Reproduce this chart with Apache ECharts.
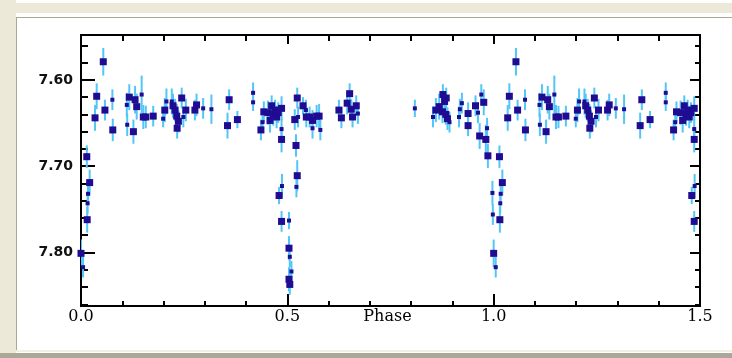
<!DOCTYPE html>
<html><head><meta charset="utf-8">
<script src="https://cdn.jsdelivr.net/npm/echarts@6/dist/echarts.min.js"></script>
<style>
html,body{margin:0;padding:0;width:732px;height:358px;overflow:hidden;background:#fff;}
.f{position:absolute;}
#chart{position:absolute;left:0;top:0;width:732px;height:358px;}
</style></head><body>
<div class="f" style="left:0;top:3px;width:732px;height:10px;background:#ECE9D8"></div>
<div class="f" style="left:0;top:0;width:16px;height:358px;background:#ECE9D8"></div>
<div class="f" style="left:16px;top:17px;width:716px;height:1px;background:#ACA899"></div>
<div class="f" style="left:16px;top:17px;width:1px;height:333px;background:#ACA899"></div>
<div class="f" style="left:16px;top:350px;width:716px;height:2px;background:#F1EFE2"></div>
<div class="f" style="left:0;top:353px;width:732px;height:5px;background:#ACA899"></div>
<div id="chart"></div>
<script>
// Folded light curve, phase 0..1 (phases below 0.5 are repeated at +1, as in the source)
const phase = [0.000,0.005,0.014,0.015,0.016,0.017,0.021,0.034,0.038,0.054,0.058,0.076,0.077,0.111,0.112,0.117,0.127,0.131,0.135,0.147,0.151,0.157,0.175,0.199,0.203,0.207,0.220,0.223,0.228,0.232,0.233,0.236,0.244,0.248,0.254,0.276,0.280,0.296,0.316,0.355,0.359,0.379,0.417,0.417,0.436,0.440,0.443,0.453,0.458,0.462,0.466,0.470,0.474,0.478,0.480,0.486,0.486,0.486,0.487,0.486,
0.504,0.504,0.506,0.510,0.504,0.506,0.518,0.521,0.522,0.524,0.524,0.526,0.538,0.545,0.546,0.554,0.561,0.561,0.571,0.577,0.580,0.625,0.631,0.645,0.651,0.655,0.658,0.667,0.671,0.809,0.853,0.860,0.868,0.876,0.877,0.881,0.884,0.885,0.888,0.893,0.916,0.918,0.923,0.938,0.938,0.956,0.962,0.966,0.970,0.976,0.981,0.984,0.986,0.997,0.998];
const mag = [7.801,7.817,7.689,7.762,7.743,7.732,7.719,7.644,7.619,7.579,7.635,7.623,7.658,7.629,7.652,7.620,7.660,7.623,7.631,7.617,7.643,7.643,7.642,7.645,7.635,7.625,7.625,7.630,7.635,7.642,7.656,7.648,7.621,7.643,7.635,7.635,7.629,7.633,7.634,7.653,7.623,7.646,7.615,7.626,7.658,7.649,7.637,7.638,7.647,7.630,7.640,7.635,7.643,7.638,7.734,7.633,7.657,7.669,7.723,7.764,
7.763,7.795,7.805,7.822,7.831,7.837,7.646,7.676,7.724,7.621,7.711,7.643,7.630,7.635,7.643,7.643,7.647,7.656,7.642,7.642,7.658,7.635,7.644,7.627,7.616,7.634,7.643,7.630,7.639,7.633,7.643,7.635,7.631,7.637,7.617,7.625,7.640,7.621,7.645,7.649,7.643,7.634,7.627,7.639,7.653,7.630,7.638,7.665,7.617,7.626,7.669,7.656,7.688,7.731,7.756];
const err = [0.016,0.012,0.013,0.015,0.012,0.012,0.015,0.015,0.015,0.016,0.012,0.012,0.013,0.014,0.013,0.015,0.014,0.016,0.015,0.022,0.014,0.013,0.012,0.010,0.014,0.015,0.015,0.014,0.013,0.014,0.012,0.013,0.012,0.012,0.013,0.012,0.013,0.012,0.017,0.015,0.012,0.010,0.012,0.010,0.012,0.010,0.012,0.014,0.014,0.012,0.013,0.012,0.013,0.012,0.010,0.014,0.012,0.015,0.014,0.012,
0.010,0.014,0.012,0.012,0.014,0.012,0.012,0.013,0.012,0.012,0.018,0.012,0.010,0.012,0.012,0.012,0.012,0.012,0.013,0.014,0.012,0.012,0.012,0.013,0.012,0.012,0.012,0.012,0.012,0.010,0.012,0.014,0.015,0.013,0.012,0.012,0.012,0.012,0.013,0.012,0.012,0.012,0.012,0.013,0.012,0.012,0.012,0.015,0.012,0.015,0.017,0.012,0.014,0.014,0.012];
// 1 = mean of several observations (drawn larger), 0 = single observation
const nObs = [1,0,1,1,0,0,1,1,1,1,1,0,1,0,0,1,1,1,1,0,1,1,1,0,1,0,0,1,1,1,1,1,1,0,1,1,1,0,0,1,1,1,0,0,1,0,1,1,1,1,1,1,1,1,1,1,0,1,0,1,
0,1,0,0,1,1,1,1,0,1,1,0,1,0,1,1,1,0,1,1,0,1,1,1,1,1,1,1,0,0,0,1,1,1,1,1,1,1,1,0,0,0,0,1,1,1,0,1,0,1,1,0,1,0,0];
const xTickLabels = ['0.0','0.5','1.0','1.5'];
const yMajor = [7.60, 7.70, 7.80];
const yMinor = [7.56,7.58,7.62,7.64,7.66,7.68,7.72,7.74,7.76,7.78,7.82,7.84,7.86];

const pts = [];
for (let i = 0; i < phase.length; i++) {
  pts.push([phase[i], mag[i], err[i], nObs[i]]);
  if (phase[i] < 0.5) pts.push([phase[i] + 1, mag[i], err[i], nObs[i]]);
}

const Y0 = 7.548, Y1 = 7.862;
const black = '#000';
function yAx(pos, vals, len, labels) {
  return {
    type: 'value', min: Y0, max: Y1, inverse: true, position: pos,
    axisLine: {show: true, onZero: false, lineStyle: {color: black, width: 2}},
    splitLine: {show: false},
    axisTick: {show: true, inside: true, length: len, customValues: vals, lineStyle: {color: black, width: 2}},
    axisLabel: labels ? {show: true, customValues: vals, formatter: v => v.toFixed(2), margin: 8,
      fontFamily: 'DejaVu Sans', fontWeight: 'bold', fontSize: 14, color: '#111'} : {show: false}
  };
}
function xAx(pos, labels, majLen, minLen) {
  return {
    type: 'value', min: 0, max: 1.5, interval: 0.5, position: pos,
    axisLine: {show: true, onZero: false, lineStyle: {color: black, width: 2}},
    splitLine: {show: false}, minorSplitLine: {show: false},
    axisTick: {show: true, inside: true, length: majLen, lineStyle: {color: black, width: 2}},
    minorTick: {show: true, splitNumber: 5, length: minLen, lineStyle: {color: black, width: 2}},
    axisLabel: labels ? {show: true, margin: 3, formatter: v => xTickLabels[Math.round(v / 0.5)],
      fontFamily: 'DejaVu Serif', fontSize: 16, color: '#000'} : {show: false},
    name: labels ? 'Phase' : '', nameLocation: 'middle', nameGap: 3, nameMoveOverlap: false,
    nameTextStyle: {fontFamily: 'DejaVu Serif', fontSize: 16, color: '#000', verticalAlign: 'top', padding: [0, 6, 0, 0]}
  };
}

const chart = echarts.init(document.getElementById('chart'), null, {renderer: 'canvas'});
chart.setOption({
  animation: false,
  backgroundColor: 'transparent',
  grid: {left: 81, right: 32, top: 35, bottom: 52, containLabel: false},
  xAxis: [xAx('bottom', true, 12, 5), xAx('top', false, 9, 6)],
  yAxis: [yAx('left', yMajor, 14, true), yAx('left', yMinor, 7, false), yAx('right', yMajor, 10, false), yAx('right', yMinor, 5, false)],
  series: [
    {
      type: 'custom', xAxisIndex: 0, yAxisIndex: 0, clip: true,
      data: pts,
      encode: {x: 0, y: 1},
      renderItem: function (params, api) {
        const x = api.value(0), y = api.value(1), e = api.value(2);
        const p1 = api.coord([x, y - e]), p2 = api.coord([x, y + e]);
        return {type: 'line', shape: {x1: p1[0], y1: p1[1], x2: p2[0], y2: p2[1]},
          style: {stroke: '#52C6F6', lineWidth: 2}};
      },
      z: 2
    },
    {
      type: 'scatter', xAxisIndex: 0, yAxisIndex: 0, clip: true,
      data: pts,
      encode: {x: 0, y: 1},
      symbol: 'rect',
      symbolSize: v => (v[3] ? 7 : 4),
      itemStyle: {color: '#1F0C92', opacity: 1},
      z: 3
    }
  ]
});
</script>
</body></html>
